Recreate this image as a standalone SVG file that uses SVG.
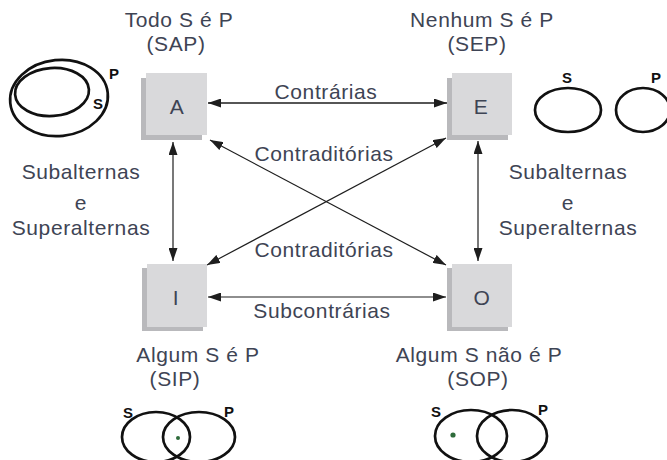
<svg xmlns="http://www.w3.org/2000/svg" width="667" height="460" viewBox="0 0 667 460">
<style>
.t{font-family:"Liberation Sans",Arial,sans-serif;font-size:21px;letter-spacing:0.6px;fill:#3e4454;text-anchor:middle}
.box{fill:#d9d9db}
.sh{fill:#b9b9bc}
.ln{stroke:#1e1e1e;stroke-width:1.2;fill:none;marker-start:url(#ah);marker-end:url(#ah)}
.v{fill:none;stroke:#111;stroke-width:2.7}
.vl{font-family:"Liberation Sans",Arial,sans-serif;font-weight:bold;font-size:15px;fill:#111;text-anchor:middle}
</style>
<defs>
<marker id="ah" viewBox="0 0 13 9" refX="13" refY="4.5" markerWidth="13" markerHeight="9" markerUnits="userSpaceOnUse" orient="auto-start-reverse">
<path d="M0,0 L13,4.5 L0,9 Z" fill="#1e1e1e"/>
</marker>
</defs>
<rect width="667" height="460" fill="#fff"/>

<g id="connectors">
<line class="ln" x1="208" y1="103" x2="447" y2="103" style="stroke-width:1.6"/>
<line class="ln" x1="208" y1="297" x2="446" y2="297"/>
<line class="ln" x1="173" y1="142" x2="173" y2="261"/>
<line class="ln" x1="478" y1="141" x2="478" y2="261"/>
<line class="ln" x1="210" y1="140" x2="446" y2="265"/>
<line class="ln" x1="446" y1="138" x2="207" y2="265"/>
</g>

<g id="A">
<rect class="sh" x="141" y="78" width="61" height="62"/>
<rect class="box" x="146" y="73" width="61" height="62"/>
<text class="t" x="177" y="114">A</text>
</g>
<g id="E">
<rect class="sh" x="447" y="78" width="61" height="62"/>
<rect class="box" x="452" y="73" width="60" height="62"/>
<text class="t" x="481" y="114">E</text>
</g>
<g id="I">
<rect class="sh" x="142" y="268" width="61" height="63"/>
<rect class="box" x="147" y="264" width="60" height="63"/>
<text class="t" x="176" y="305">I</text>
</g>
<g id="O">
<rect class="sh" x="447" y="268" width="61" height="63"/>
<rect class="box" x="452" y="264" width="60" height="63"/>
<text class="t" x="482" y="305">O</text>
</g>

<g id="labels">
<text class="t"><tspan x="179" y="27">Todo S é P</tspan><tspan x="176" y="51">(SAP)</tspan></text>
<text class="t"><tspan x="482" y="27">Nenhum S é P</tspan><tspan x="477" y="51">(SEP)</tspan></text>
<text class="t" x="326" y="99">Contrárias</text>
<text class="t" x="324" y="161">Contraditórias</text>
<text class="t" x="324" y="257">Contraditórias</text>
<text class="t" x="322" y="318">Subcontrárias</text>
<text class="t"><tspan x="81" y="179">Subalternas</tspan><tspan x="81" y="210">e</tspan><tspan x="81" y="235">Superalternas</tspan></text>
<text class="t"><tspan x="568" y="179">Subalternas</tspan><tspan x="568" y="210">e</tspan><tspan x="568" y="235">Superalternas</tspan></text>
<text class="t"><tspan x="198" y="362">Algum S é P</tspan><tspan x="175" y="386">(SIP)</tspan></text>
<text class="t"><tspan x="479" y="362">Algum S não é P</tspan><tspan x="478" y="386">(SOP)</tspan></text>
</g>

<g id="venn-SAP">
<ellipse class="v" cx="59" cy="98" rx="49" ry="38" transform="rotate(-6 59 98)"/>
<ellipse class="v" cx="52" cy="92" rx="37" ry="24" transform="rotate(-4 52 92)"/>
<text class="vl" x="114" y="79">P</text>
<text class="vl" x="98" y="109">S</text>
</g>
<g id="venn-SEP">
<ellipse class="v" cx="568" cy="110" rx="33" ry="22"/>
<ellipse class="v" cx="643" cy="110" rx="27" ry="22"/>
<text class="vl" x="567" y="83">S</text>
<text class="vl" x="656" y="83">P</text>
</g>
<g id="venn-SIP">
<ellipse class="v" cx="156" cy="437" rx="34" ry="25"/>
<ellipse class="v" cx="199" cy="437" rx="36" ry="25"/>
<circle cx="178" cy="438" r="2" fill="#2e6b3a"/>
<text class="vl" x="128" y="418">S</text>
<text class="vl" x="229" y="417">P</text>
</g>
<g id="venn-SOP">
<ellipse class="v" cx="471" cy="436" rx="36" ry="26"/>
<ellipse class="v" cx="512" cy="436" rx="35" ry="26"/>
<circle cx="453" cy="435" r="2.6" fill="#2e6b3a"/>
<text class="vl" x="436" y="417">S</text>
<text class="vl" x="543" y="415">P</text>
</g>
</svg>
